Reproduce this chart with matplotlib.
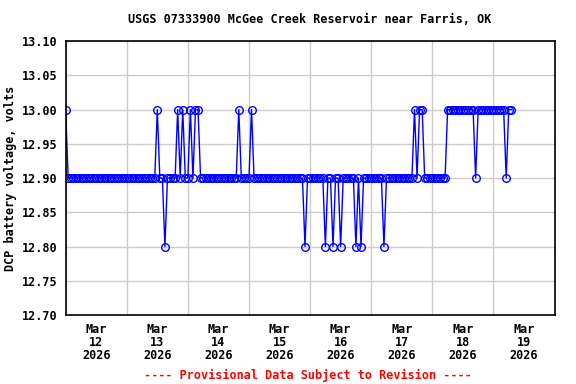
import numpy as np
import pandas as pd
import matplotlib
matplotlib.use("Agg")
import matplotlib.pyplot as plt
import matplotlib.dates as mdates

# hourly DCP battery voltage, one row per day (Mar 12 .. Mar 19)
mar12 = [13.00, 12.90, 12.90, 12.90, 12.90, 12.90, 12.90, 12.90, 12.90, 12.90, 12.90, 12.90,
         12.90, 12.90, 12.90, 12.90, 12.90, 12.90, 12.90, 12.90, 12.90, 12.90, 12.90, 12.90]
mar13 = [12.90, 12.90, 12.90, 12.90, 12.90, 12.90, 12.90, 12.90, 12.90, 12.90, 12.90, 12.90,
         13.00, 12.90, 12.90, 12.80, 12.90, 12.90, 12.90, 12.90, 13.00, 12.90, 13.00, 12.90]
mar14 = [12.90, 13.00, 12.90, 13.00, 13.00, 12.90, 12.90, 12.90, 12.90, 12.90, 12.90, 12.90,
         12.90, 12.90, 12.90, 12.90, 12.90, 12.90, 12.90, 12.90, 13.00, 12.90, 12.90, 12.90]
mar15 = [12.90, 13.00, 12.90, 12.90, 12.90, 12.90, 12.90, 12.90, 12.90, 12.90, 12.90, 12.90,
         12.90, 12.90, 12.90, 12.90, 12.90, 12.90, 12.90, 12.90, 12.90, 12.90, 12.80, 12.90]
mar16 = [12.90, 12.90, 12.90, 12.90, 12.90, 12.90, 12.80, 12.90, 12.90, 12.80, 12.90, 12.90,
         12.80, 12.90, 12.90, 12.90, 12.90, 12.90, 12.80, 12.90, 12.80, 12.90, 12.90, 12.90]
mar17 = [12.90, 12.90, 12.90, 12.90, 12.90, 12.80, 12.90, 12.90, 12.90, 12.90, 12.90, 12.90,
         12.90, 12.90, 12.90, 12.90, 12.90, 13.00, 12.90, 13.00, 13.00, 12.90, 12.90, 12.90]
mar18 = [12.90, 12.90, 12.90, 12.90, 12.90, 12.90, 13.00, 13.00, 13.00, 13.00, 13.00, 13.00,
         13.00, 13.00, 13.00, 13.00, 13.00, 12.90, 13.00, 13.00, 13.00, 13.00, 13.00, 13.00]
mar19 = [13.00, 13.00, 13.00, 13.00, 13.00, 12.90, 13.00, 13.00]

volts = mar12 + mar13 + mar14 + mar15 + mar16 + mar17 + mar18 + mar19
times = pd.date_range("2026-03-12 00:00", periods=len(volts), freq="h")

yticks = [12.70, 12.75, 12.80, 12.85, 12.90, 12.95, 13.00, 13.05, 13.10]

plt.rcParams['font.family'] = ['DejaVu Sans Mono']
plt.rcParams['font.weight'] = 'bold'
fs = 8.5

fig = plt.figure(figsize=(5.76, 3.84), dpi=100)
ax = fig.add_axes([0.1139, 0.1797, 0.8489, 0.7133])

ax.plot(times, volts, color='blue', linewidth=1, marker='o', markersize=5.5,
        markerfacecolor='none', markeredgecolor='blue', markeredgewidth=1)

ax.set_xlim(pd.Timestamp("2026-03-12"), pd.Timestamp("2026-03-20"))
ax.set_ylim(12.70, 13.10)
ax.set_yticks(yticks)
ax.set_yticklabels(['%.2f' % v for v in yticks], fontsize=fs, fontweight='bold')

ax.xaxis.set_major_locator(mdates.DayLocator())
ax.xaxis.set_major_formatter(plt.NullFormatter())
ax.xaxis.set_minor_locator(mdates.HourLocator(byhour=[12]))
ax.xaxis.set_minor_formatter(mdates.DateFormatter('%b\n%d\n%Y'))
for lab in ax.xaxis.get_minorticklabels():
    lab.set_fontsize(fs)
    lab.set_fontweight('bold')
    lab.set_linespacing(1.0)
ax.tick_params(axis='x', which='both', length=0, pad=6)
ax.tick_params(axis='y', length=0, pad=6)

ax.grid(True, which='major', color='#cccccc', linewidth=1)
ax.set_axisbelow(True)
for s in ax.spines.values():
    s.set_linewidth(1.2)
    s.set_color('black')

ax.set_ylabel('DCP battery voltage, volts', fontsize=fs, fontweight='bold', labelpad=3)
ax.set_title('USGS 07333900 McGee Creek Reservoir near Farris, OK',
             fontsize=fs, fontweight='bold', pad=13)
fig.text(0.535, 0.013, '---- Provisional Data Subject to Revision ----',
         color='red', fontsize=fs, fontweight='bold', ha='center')

fig.savefig('out.png', dpi=100)
